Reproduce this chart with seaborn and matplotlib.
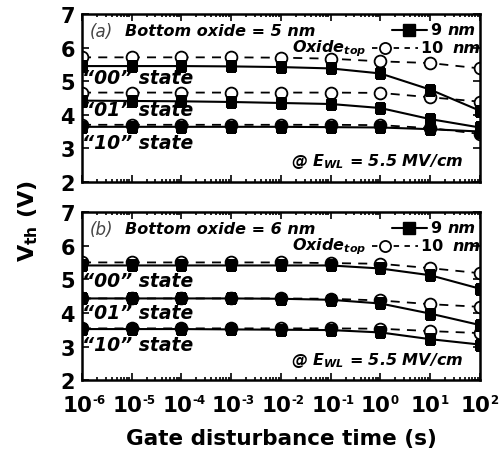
import numpy as np
import pandas as pd
import matplotlib
matplotlib.use("Agg")
import matplotlib.pyplot as plt
from matplotlib.ticker import LogLocator, NullFormatter, FixedLocator
from matplotlib.path import Path
from matplotlib.transforms import TransformedPath
import seaborn as sns

sns.set_style("ticks")
plt.rcParams['font.family'] = ['DejaVu Sans']
plt.rcParams['mathtext.fontset'] = 'custom'
plt.rcParams['mathtext.rm'] = 'DejaVu Sans:bold'
plt.rcParams['mathtext.bf'] = 'DejaVu Sans:bold'
plt.rcParams['mathtext.it'] = 'DejaVu Sans:italic:bold'
for k in ['text.color', 'axes.labelcolor', 'xtick.color', 'ytick.color', 'axes.edgecolor']:
    plt.rcParams[k] = 'black'

# ---- data ----
time_s = [1e-6, 1e-5, 1e-4, 1e-3, 1e-2, 1e-1, 1e0, 1e1, 1e2]

# panel (a): bottom oxide 5 nm
a_00_9nm = [5.45, 5.45, 5.45, 5.44, 5.42, 5.38, 5.23, 4.75, 4.12]
a_00_10nm = [5.71, 5.71, 5.71, 5.71, 5.70, 5.67, 5.59, 5.54, 5.38]
a_01_9nm = [4.42, 4.41, 4.40, 4.38, 4.35, 4.32, 4.20, 3.87, 3.62]
a_01_10nm = [4.66, 4.66, 4.66, 4.66, 4.66, 4.66, 4.65, 4.52, 4.39]
a_10_9nm = [3.64, 3.64, 3.64, 3.64, 3.64, 3.63, 3.62, 3.57, 3.50]
a_10_10nm = [3.70, 3.70, 3.70, 3.70, 3.70, 3.70, 3.69, 3.60, 3.43]

# panel (b): bottom oxide 6 nm
b_00_9nm = [5.41, 5.41, 5.41, 5.41, 5.41, 5.41, 5.32, 5.12, 4.72]
b_00_10nm = [5.50, 5.50, 5.50, 5.50, 5.50, 5.48, 5.46, 5.33, 5.18]
b_01_9nm = [4.43, 4.43, 4.43, 4.43, 4.42, 4.39, 4.28, 3.98, 3.64]
b_01_10nm = [4.43, 4.43, 4.43, 4.43, 4.43, 4.42, 4.37, 4.26, 4.18]
b_10_9nm = [3.52, 3.52, 3.52, 3.51, 3.50, 3.49, 3.42, 3.22, 3.06]
b_10_10nm = [3.54, 3.54, 3.54, 3.54, 3.54, 3.54, 3.53, 3.46, 3.40]

state_labels = ['\u201c00\u201d state', '\u201c01\u201d state', '\u201c10\u201d state']
x_tick_exps = [-6, -5, -4, -3, -2, -1, 0, 1, 2]
y_ticks = [2, 3, 4, 5, 6, 7]

fig = plt.figure(figsize=(5.03, 4.56), dpi=100)
ax_a = fig.add_axes([0.163, 0.599, 0.791, 0.368])
ax_b = fig.add_axes([0.163, 0.164, 0.791, 0.369])

panels = [
    (ax_a, '(a)', 'Bottom oxide = 5 nm',
     [(a_00_9nm, a_00_10nm), (a_01_9nm, a_01_10nm), (a_10_9nm, a_10_10nm)]),
    (ax_b, '(b)', 'Bottom oxide = 6 nm',
     [(b_00_9nm, b_00_10nm), (b_01_9nm, b_01_10nm), (b_10_9nm, b_10_10nm)]),
]

state_y = [[0.62, 0.43, 0.235], [0.59, 0.40, 0.21]]
FS = 11.5

for pi, (ax, tag, title, series) in enumerate(panels):
    for s9, s10 in series:
        df = pd.DataFrame({'t': time_s, 'v9': s9, 'v10': s10})
        sns.lineplot(data=df, x='t', y='v10', ax=ax, color='black', lw=1.3,
                     linestyle=(0, (5, 4)), marker='o', markersize=8.5,
                     markerfacecolor='white', markeredgecolor='black',
                     markeredgewidth=1.3, zorder=2)
        sns.lineplot(data=df, x='t', y='v9', ax=ax, color='black', lw=1.5,
                     marker='s', markersize=7.5, markerfacecolor='black',
                     markeredgecolor='black', zorder=3)
    clip = TransformedPath(Path.unit_rectangle(), ax.transAxes)
    for ln in ax.lines:
        ln.set_clip_on(True)
        ln.set_clip_path(clip)
    ax.set_xscale('log')
    ax.set_xlim(1e-6, 1e2)
    ax.set_ylim(2, 7)
    ax.set_xlabel('')
    ax.set_ylabel('')
    ax.xaxis.set_major_locator(LogLocator(base=10, numticks=20))
    ax.xaxis.set_minor_locator(LogLocator(base=10, subs=np.arange(2, 10), numticks=20))
    ax.xaxis.set_minor_formatter(NullFormatter())
    ax.xaxis.set_major_formatter(NullFormatter())
    ax.yaxis.set_major_locator(FixedLocator(y_ticks))
    ax.tick_params(which='both', direction='in', top=True, right=True, width=1.2)
    ax.tick_params(which='major', length=5)
    ax.tick_params(which='minor', length=2.5)
    ax.tick_params(axis='y', labelsize=15, pad=5)
    for lab in ax.get_yticklabels():
        lab.set_fontweight('bold')
    for sp in ax.spines.values():
        sp.set_linewidth(1.8)
        sp.set_visible(True)

    ax.text(0.02, 0.90, tag, transform=ax.transAxes, fontsize=12,
            style='italic', color='#444444', va='center', ha='left')
    ax.text(0.108, 0.90, title, transform=ax.transAxes, fontsize=FS,
            fontweight='bold', style='italic', va='center', ha='left')
    for lab, yy in zip(state_labels, state_y[pi]):
        ax.text(0.0, yy, lab, transform=ax.transAxes, fontsize=13.5,
                fontweight='bold', style='italic', va='center', ha='left')
    ax.text(0.958, 0.125, r'@ $E_{WL}$ = 5.5 MV/cm', transform=ax.transAxes,
            fontsize=FS, fontweight='bold', style='italic', va='center', ha='right')
    # legend
    ax.plot([0.779, 0.867], [0.905, 0.905], transform=ax.transAxes, color='black', lw=1.5, clip_on=False)
    ax.plot([0.822], [0.905], transform=ax.transAxes, marker='s', markersize=8, color='black', clip_on=False)
    ax.text(0.877, 0.905, '9 ', transform=ax.transAxes, fontsize=FS, fontweight='bold',
            va='center', ha='left')
    ax.text(0.918, 0.905, 'nm', transform=ax.transAxes, fontsize=FS, fontweight='bold',
            style='italic', va='center', ha='left')
    ax.plot([0.728, 0.845], [0.80, 0.80], transform=ax.transAxes, color='black', lw=1.3,
            linestyle=(0, (3, 3)), clip_on=False)
    ax.plot([0.762], [0.80], transform=ax.transAxes, marker='o', markersize=8,
            markerfacecolor='white', markeredgecolor='black', markeredgewidth=1.3, clip_on=False)
    ax.text(0.852, 0.80, '10 ', transform=ax.transAxes, fontsize=FS, fontweight='bold',
            va='center', ha='left')
    ax.text(0.93, 0.80, 'nm', transform=ax.transAxes, fontsize=FS, fontweight='bold',
            style='italic', va='center', ha='left')
    ax.text(0.716, 0.80, r'Oxide$_{top}$', transform=ax.transAxes, fontsize=FS,
            fontweight='bold', style='italic', va='center', ha='right')

# x tick labels of the lower panel: "10" with a small superscript exponent
for e in x_tick_exps:
    ax_b.annotate('10', xy=(10.0 ** e, 0), xycoords=('data', 'axes fraction'),
                  xytext=(-3.2, -11), textcoords='offset points',
                  ha='center', va='top', fontsize=15.5, fontweight='bold')
    ax_b.annotate(str(e), xy=(10.0 ** e, 0), xycoords=('data', 'axes fraction'),
                  xytext=(7.6, -9.2), textcoords='offset points',
                  ha='left', va='top', fontsize=8.5, fontweight='bold')

fig.text(0.955 - 0.791 / 2, 0.037, 'Gate disturbance time (s)', ha='center', va='center',
         fontsize=15.5, fontweight='bold')
fig.text(0.056, 0.515, r'V$_{\mathrm{th}}$ (V)', rotation=90, ha='center', va='center',
         fontsize=16, fontweight='bold')

fig.savefig('out.png', dpi=100)
